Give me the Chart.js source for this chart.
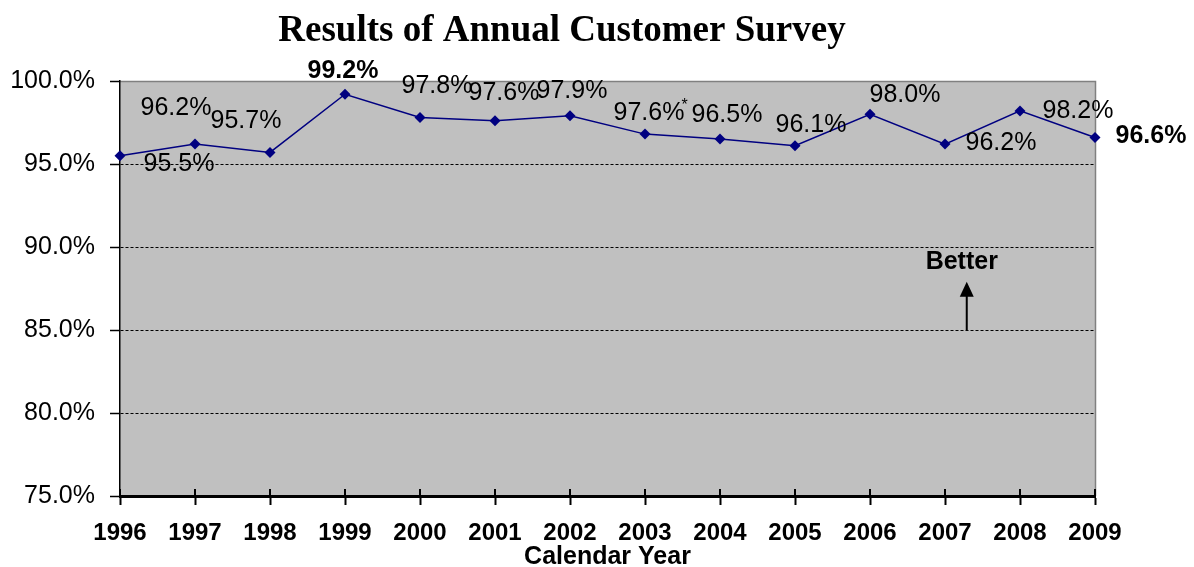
<!DOCTYPE html>
<html>
<head>
<meta charset="utf-8">
<script src="https://cdn.jsdelivr.net/npm/chart.js@4.4.0/dist/chart.umd.min.js"></script>
<style>
  body { margin: 0; background: #fff; }
  #wrap { width: 1194px; height: 567px; }
</style>
</head>
<body>
<div id="wrap"><canvas id="mycanvas" width="1194" height="567"></canvas></div>
<script>
// data
var years = ["1996", "1997", "1998", "1999", "2000", "2001", "2002",
             "2003", "2004", "2005", "2006", "2007", "2008", "2009"];
var scores = [95.5, 96.2, 95.7, 99.2, 97.8, 97.6, 97.9,
              96.8, 96.5, 96.1, 98.0, 96.2, 98.2, 96.6];
var scoreLabels = ["95.5%", "96.2%", "95.7%", "99.2%", "97.8%", "97.6%", "97.9%",
                   "97.6%*", "96.5%", "96.1%", "98.0%", "96.2%", "98.2%", "96.6%"];
var yMin = 75, yMax = 100, yStep = 5;
var chartTitle = "Results of Annual Customer Survey";
var axisTitle = "Calendar Year";
var noteText = "Better";

// where each value label sits relative to its point (dx, dy of text centre)
var labelOffsets = [[59, 8], [-19, -36], [-24, -31], [-2, -23], [17, -31], [9, -28], [2, -25],
                    [4, -21], [7, -24], [16, -21], [35, -19], [56, -1], [58, 0], [56, -1]];
var boldLabels = [3, 13];

var FONT = "'Liberation Sans', Arial, sans-serif";

var plotBg = {
  id: 'plotBg',
  beforeDraw: function(chart) {
    var a = chart.chartArea, ctx = chart.ctx;
    ctx.save();
    ctx.fillStyle = '#c0c0c0';
    ctx.fillRect(a.left, a.top, a.right - a.left, a.bottom - a.top);
    ctx.strokeStyle = '#808080';
    ctx.lineWidth = 1.5;
    ctx.beginPath();
    ctx.moveTo(a.left, a.top + 0.5);
    ctx.lineTo(a.right + 0.5, a.top + 0.5);
    ctx.lineTo(a.right + 0.5, a.bottom);
    ctx.stroke();

    ctx.fillStyle = '#000';
    ctx.font = "bold 37px 'Liberation Serif', 'Times New Roman', serif";
    ctx.textAlign = 'center';
    ctx.textBaseline = 'alphabetic';
    ctx.fillText(chartTitle, 562, 41);
    ctx.restore();
  }
};

var pointText = {
  id: 'pointText',
  afterDatasetsDraw: function(chart) {
    var ctx = chart.ctx;
    var meta = chart.getDatasetMeta(0);
    ctx.save();
    ctx.fillStyle = '#000';
    ctx.textBaseline = 'middle';
    meta.data.forEach(function(pt, i) {
      var txt = scoreLabels[i];
      var off = labelOffsets[i];
      var bold = boldLabels.indexOf(i) >= 0;
      ctx.font = (bold ? 'bold ' : '') + '25px ' + FONT;
      var x = pt.x + off[0], y = pt.y + off[1];
      if (txt.slice(-1) === '*') {
        var main = txt.slice(0, -1);
        ctx.textAlign = 'center';
        ctx.fillText(main, x, y);
        var w = ctx.measureText(main).width;
        ctx.font = '16px ' + FONT;
        ctx.textAlign = 'left';
        ctx.fillText('*', x + w / 2 - 3, y - 8);
      } else {
        ctx.textAlign = 'center';
        ctx.fillText(txt, x, y);
      }
    });
    ctx.restore();
  }
};

var betterNote = {
  id: 'betterNote',
  afterDatasetsDraw: function(chart) {
    var ctx = chart.ctx;
    var xs = chart.scales.x, ys = chart.scales.y;
    var x = xs.getPixelForValue(11.29);
    var yBase = ys.getPixelForValue(85);
    var yTip = ys.getPixelForValue(87.9);
    ctx.save();
    ctx.strokeStyle = '#000';
    ctx.fillStyle = '#000';
    ctx.lineWidth = 2;
    ctx.beginPath();
    ctx.moveTo(x, yBase);
    ctx.lineTo(x, yTip + 10);
    ctx.stroke();
    ctx.beginPath();
    ctx.moveTo(x, yTip);
    ctx.lineTo(x - 7, yTip + 15);
    ctx.lineTo(x + 7, yTip + 15);
    ctx.closePath();
    ctx.fill();
    ctx.font = 'bold 25px ' + FONT;
    ctx.textAlign = 'center';
    ctx.textBaseline = 'middle';
    ctx.fillText(noteText, x - 5, ys.getPixelForValue(89.1));
    ctx.restore();
  },
  afterDraw: function(chart) {
    // short part of the x tick marks that pokes up into the plot
    var ctx = chart.ctx, xs = chart.scales.x, a = chart.chartArea;
    ctx.save();
    ctx.strokeStyle = '#000';
    ctx.lineWidth = 2;
    ctx.beginPath();
    for (var i = 0; i < years.length; i++) {
      var px = xs.getPixelForTick(i);
      ctx.moveTo(px, a.bottom - 7);
      ctx.lineTo(px, a.bottom);
    }
    ctx.stroke();
    ctx.restore();
  }
};

var ctx = document.getElementById('mycanvas');

new Chart(ctx, {
  type: 'line',
  data: {
    labels: years,
    datasets: [{
      label: 'Score',
      data: scores,
      borderColor: '#000080',
      backgroundColor: '#000080',
      borderWidth: 1.5,
      tension: 0,
      pointStyle: 'rectRot',
      pointRadius: 5.5,
      pointBorderWidth: 0,
      pointBackgroundColor: '#000080',
      clip: false
    }]
  },
  options: {
    responsive: false,
    animation: false,
    layout: { padding: { top: 81, right: 99, left: 0, bottom: 0 } },
    plugins: {
      legend: { display: false },
      title: { display: false },
      tooltip: { enabled: false }
    },
    scales: {
      x: {
        offset: false,
        afterFit: function(s) { s.height = 71; },
        grid: { drawOnChartArea: false, drawTicks: true, tickLength: 9, tickColor: '#000', tickWidth: 2 },
        border: { display: true, color: '#000', width: 3 },
        ticks: {
          color: '#000', padding: 14, maxRotation: 0, autoSkip: false,
          font: { family: FONT, size: 24, weight: 'bold' }
        },
        title: {
          display: true, text: axisTitle, color: '#000',
          font: { family: FONT, size: 25, weight: 'bold', lineHeight: 1 },
          padding: { top: 0, bottom: -3 }
        }
      },
      y: {
        min: yMin, max: yMax,
        afterFit: function(s) { s.width = 120; },
        grid: {
          color: function(c) {
            var v = c.tick && c.tick.value;
            return (v === yMin || v === yMax) ? 'rgba(0,0,0,0)' : '#000';
          },
          lineWidth: 1,
          drawTicks: true, tickLength: 10, tickColor: '#000', tickWidth: 1.5, tickBorderDash: []
        },
        border: { display: true, color: '#000', width: 1.5, dash: [3, 2] },
        ticks: {
          stepSize: yStep, color: '#000', padding: 15,
          font: { family: FONT, size: 25 },
          callback: function(v) { return v.toFixed(1) + '%'; }
        }
      }
    }
  },
  plugins: [plotBg, pointText, betterNote]
});
</script>
</body>
</html>
